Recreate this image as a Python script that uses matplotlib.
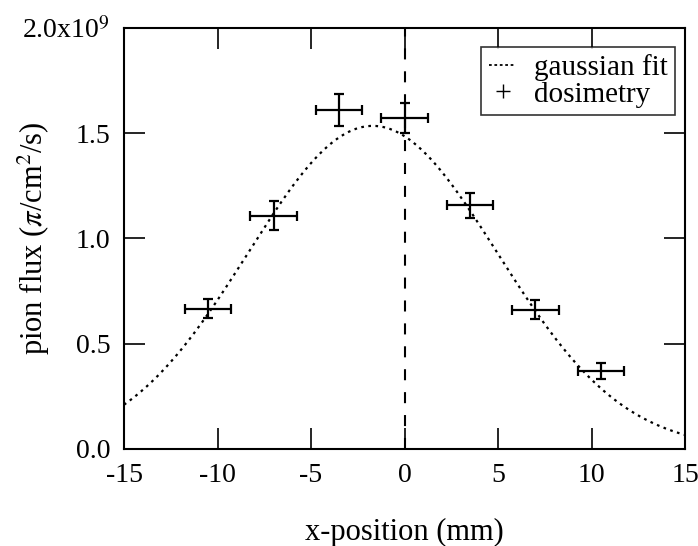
import numpy as np
import matplotlib
matplotlib.use("Agg")
import matplotlib.pyplot as plt
from matplotlib.lines import Line2D

# dosimetry measurements (flux in units of 1e9 pi/cm^2/s)
pos_mm = [-10.5, -7.0, -3.5, 0.0, 3.5, 7.0, 10.5]
flux = [0.667, 1.109, 1.610, 1.572, 1.158, 0.662, 0.370]
flux_err = [0.044, 0.067, 0.075, 0.072, 0.059, 0.046, 0.038]
pos_err = [1.24, 1.24, 1.24, 1.24, 1.24, 1.24, 1.24]

# gaussian fit parameters
fit_amp = 1.535
fit_mu = -1.7
fit_sigma = 6.67

yticks = [0.0, 0.5, 1.0, 1.5, 2.0]
ytick_labels = ["0.0", "0.5", "1.0", "1.5", "2.0x10$^9$"]
xticks = [-15, -10, -5, 0, 5, 10, 15]

plt.rcParams['font.family'] = ['Liberation Serif', 'DejaVu Serif']
plt.rcParams['mathtext.fontset'] = 'stix'

fig = plt.figure(figsize=(6.98, 5.46), dpi=100)
ax = fig.add_axes([0.1777, 0.1777, 0.8037, 0.7710])

# fitted curve
xs = np.linspace(-15, 15, 400)
ys = fit_amp * np.exp(-(xs - fit_mu) ** 2 / (2 * fit_sigma ** 2))
ax.plot(xs, ys, color='black', lw=1.6, linestyle=(0, (1.2, 2.0)))

# beam centre line
ax.axvline(0, color='black', lw=1.5, linestyle=(0, (5.3, 5.7)))

# data with error bars
ax.errorbar(pos_mm, flux, xerr=pos_err, yerr=flux_err, fmt='none',
            ecolor='black', elinewidth=1.6, capsize=3.8, capthick=1.6)

ax.set_xlim(-15, 15)
ax.set_ylim(0, 2.0)
ax.set_xticks(xticks)
ax.set_xticklabels([str(t) for t in xticks])
ax.set_yticks(yticks)
ax.set_yticklabels(ytick_labels)
ax.tick_params(direction='in', length=15, width=1.2, top=True, right=True,
               labelsize=20, pad=10)
for sp in ax.spines.values():
    sp.set_linewidth(1.5)

ax.set_xlabel('x-position (mm)', fontsize=22)
ax.xaxis.set_label_coords(0.5, -0.163)
ax.set_ylabel(r'pion flux ($\pi$/cm$^2$/s)', fontsize=22)
ax.yaxis.set_label_coords(-0.128, 0.5)

handles = [Line2D([], [], color='black', lw=1.3, linestyle=(0, (1.5, 1.5))),
           Line2D([], [], color='black', lw=0, marker='+', markersize=10,
                  markeredgewidth=1.0)]
leg = ax.legend(handles, ['gaussian fit', 'dosimetry'], loc='upper right',
                fontsize=21, frameon=True, fancybox=False, handlelength=0.95,
                handletextpad=0.6, borderpad=0.25, labelspacing=0.0,
                borderaxespad=0.0, bbox_to_anchor=(0.982, 0.955))
leg.get_frame().set_edgecolor('black')
leg.get_frame().set_linewidth(1.2)

fig.savefig('out.png', dpi=100)
